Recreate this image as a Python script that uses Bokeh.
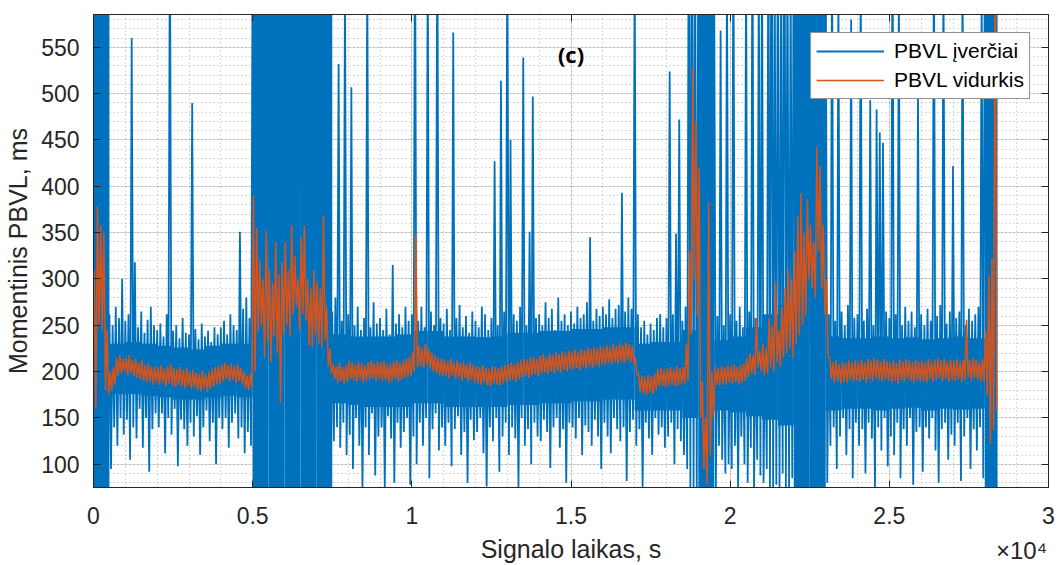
from bokeh.plotting import figure
from bokeh.models import FixedTicker, Range1d, Label, LinearAxis, CustomJSTickFormatter
from bokeh.embed import file_html
from bokeh.resources import INLINE

# ---- data ----
bin_start = list(range(0, 28400, 100))  # seconds, 100 s bins

blue_hi = [
    900, 640, 880, 610, 610, 262, 250, 270, 258, 300,
    255, 262, 560, 318, 248, 265, 242, 256, 270, 250,
    245, 252, 238, 262, 700, 244, 250, 236, 258, 242,
    240, 490, 246, 235, 252, 238, 244, 232, 248, 240,
    248, 255, 240, 262, 250, 245, 351, 268, 280, 258,
    700, 850, 620, 900, 640, 760, 880, 610, 720, 650,
    780, 640, 900, 700, 620, 860, 690, 750, 600, 820,
    720, 640, 880, 620, 600, 265, 280, 532, 255, 620,
    262, 507, 250, 270, 245, 258, 640, 248, 275, 252,
    258, 245, 268, 240, 315, 252, 262, 248, 270, 255,
    262, 720, 255, 270, 248, 650, 265, 250, 700, 258,
    252, 268, 245, 566, 258, 272, 248, 260, 242, 265,
    255, 248, 270, 262, 245, 258, 427, 250, 514, 265,
    680, 450, 262, 255, 270, 539, 250, 351, 497, 258,
    262, 250, 275, 258, 268, 245, 280, 255, 262, 250,
    265, 252, 270, 258, 262, 275, 345, 255, 268, 260,
    270, 262, 278, 258, 268, 272, 393, 265, 280, 268,
    650, 262, 248, 255, 240, 252, 245, 258, 262, 248,
    258, 524, 262, 349, 472, 255, 270, 750, 900, 680,
    700, 640, 600, 660, 434, 600, 260, 568, 250, 640,
    262, 700, 255, 270, 248, 650, 265, 720, 258, 640,
    680, 260, 720, 880, 640, 760, 620, 900, 700, 650,
    800, 640, 900, 720, 860, 700, 820, 640, 880, 750,
    700, 262, 660, 255, 620, 265, 250, 272, 580, 258,
    262, 640, 255, 268, 493, 250, 483, 458, 447, 265,
    258, 700, 262, 620, 250, 270, 255, 265, 248, 500,
    262, 250, 268, 255, 680, 260, 272, 640, 252, 265,
    422, 258, 265, 650, 250, 268, 255, 262, 270, 620,
    700, 620, 880, 900,
]
blue_lo = [
    60, 70, 65, 70, 75, 95, 140, 120, 150, 132,
    148, 105, 140, 128, 160, 118, 150, 92, 138, 155,
    140, 155, 112, 150, 132, 160, 98, 148, 138, 120,
    145, 130, 152, 110, 140, 158, 125, 145, 100, 150,
    138, 150, 118, 145, 155, 128, 140, 112, 135, 120,
    70, 95, 65, 75, 60, 105, 70, 80, 65, 72,
    65, 88, 70, 62, 100, 75, 68, 90, 72, 66,
    70, 78, 72, 80, 85, 125, 140, 118, 145, 110,
    132, 95, 150, 120, 75, 140, 110, 155, 88, 130,
    140, 75, 152, 128, 80, 145, 118, 135, 150, 78,
    130, 100, 145, 120, 150, 85, 138, 155, 115, 140,
    120, 145, 98, 138, 152, 110, 135, 80, 148, 126,
    135, 150, 112, 76, 140, 125, 150, 92, 130, 145,
    110, 140, 128, 75, 150, 120, 138, 100, 145, 130,
    125, 148, 135, 96, 140, 150, 118, 138, 80, 145,
    140, 128, 150, 110, 142, 135, 120, 148, 130, 95,
    145, 130, 112, 150, 138, 125, 140, 82, 135, 148,
    120, 138, 75, 145, 128, 110, 150, 132, 140, 118,
    130, 145, 100, 138, 125, 110, 95, 75, 70, 65,
    70, 60, 65, 70, 80, 75, 120, 105, 90, 100,
    95, 120, 75, 130, 100, 80, 118, 70, 105, 88,
    80, 95, 75, 70, 78, 65, 90, 72, 68, 85,
    70, 80, 65, 70, 75, 62, 70, 78, 68, 72,
    80, 120, 140, 95, 130, 150, 110, 138, 85, 145,
    120, 138, 90, 145, 128, 75, 140, 115, 150, 98,
    130, 110, 145, 85, 138, 120, 150, 78, 135, 140,
    92, 140, 128, 150, 115, 80, 138, 145, 105, 132,
    120, 145, 82, 130, 150, 95, 138, 115, 140, 85,
    100, 75, 70, 65,
]
mean_hi = [
    310, 378, 358, 350, 245, 200, 205, 215, 218, 214,
    215, 218, 212, 214, 210, 212, 207, 209, 205, 206,
    205, 207, 203, 206, 208, 204, 203, 205, 202, 204,
    200, 202, 199, 198, 201, 197, 200, 203, 205, 206,
    208, 210, 207, 209, 206, 208, 204, 200, 196, 198,
    390, 355, 320, 300, 352, 310, 296, 340, 305, 318,
    340, 310, 358, 325, 300, 345, 358, 300, 290, 310,
    297, 290, 368, 270, 225, 208, 206, 210, 205, 207,
    212, 210, 208, 211, 209, 207, 210, 212, 209, 211,
    210, 212, 208, 209, 211, 213, 210, 212, 214, 216,
    222, 347, 228, 226, 230, 224, 221, 218, 215, 214,
    213, 211, 214, 210, 212, 209, 211, 208, 210, 207,
    206, 205, 207, 204, 203, 206, 205, 204, 206, 207,
    208, 210, 209, 211, 212, 214, 213, 215, 216, 214,
    217, 219, 216, 220, 218, 221, 219, 222, 220, 223,
    222, 224, 221, 225, 223, 226, 224, 227, 225, 228,
    226, 229, 227, 230, 228, 231, 229, 232, 230, 228,
    215, 198, 196, 194, 197, 195, 198, 203, 204, 202,
    204, 205, 203, 206, 204, 205, 230, 330, 529, 470,
    420, 190, 150, 383, 200, 206, 204, 206, 205, 207,
    206, 208, 205, 207, 209, 215, 220, 218, 258, 222,
    230, 225, 258, 250, 297, 245, 270, 290, 310, 300,
    330, 368, 393, 350, 386, 358, 340, 443, 422, 358,
    300, 215, 210, 212, 208, 211, 209, 213, 210, 212,
    211, 213, 210, 214, 212, 215, 213, 211, 214, 212,
    210, 212, 209, 213, 211, 214, 212, 210, 213, 211,
    212, 210, 214, 211, 213, 215, 212, 214, 211, 213,
    212, 214, 211, 213, 256, 212, 215, 213, 211, 214,
    244, 304, 322, 700,
]
mean_lo = [
    160, 250, 244, 180, 175, 180, 186, 195, 198, 200,
    196, 198, 195, 193, 192, 190, 189, 190, 186, 188,
    186, 188, 184, 187, 185, 183, 186, 184, 182, 185,
    181, 183, 180, 179, 182, 178, 182, 184, 186, 187,
    190, 192, 189, 191, 188, 190, 186, 182, 180, 183,
    200, 244, 250, 215, 232, 210, 238, 220, 166, 240,
    250, 238, 262, 270, 245, 262, 255, 228, 226, 240,
    230, 226, 235, 205, 198, 192, 188, 190, 187, 189,
    192, 190, 189, 192, 188, 190, 191, 193, 190, 192,
    190, 191, 188, 190, 192, 189, 191, 193, 194, 195,
    200, 205, 206, 204, 208, 203, 200, 198, 196, 195,
    195, 193, 196, 192, 194, 190, 193, 189, 191, 188,
    187, 186, 188, 185, 184, 187, 186, 185, 188, 189,
    190, 191, 189, 192, 194, 195, 193, 196, 197, 195,
    198, 199, 197, 200, 198, 201, 199, 202, 200, 203,
    202, 204, 201, 205, 203, 206, 204, 207, 205, 208,
    207, 209, 208, 210, 208, 211, 209, 212, 210, 209,
    196, 178, 176, 175, 177, 176, 180, 184, 185, 183,
    185, 186, 184, 185, 186, 187, 190, 240, 300, 260,
    150, 95, 78, 110, 150, 186, 185, 187, 186, 188,
    187, 189, 186, 188, 190, 194, 198, 196, 205, 200,
    196, 198, 205, 200, 210, 205, 215, 220, 225, 215,
    230, 240, 250, 260, 300, 290, 280, 330, 290, 262,
    215, 192, 188, 190, 187, 189, 188, 191, 189, 190,
    189, 191, 188, 192, 190, 193, 191, 189, 192, 190,
    188, 190, 187, 191, 189, 192, 190, 188, 191, 189,
    190, 188, 192, 189, 191, 193, 190, 192, 189, 191,
    190, 192, 189, 191, 194, 190, 193, 191, 189, 190,
    174, 123, 137, 159,
]

# dense core of the blue estimates, per 500 s
core_start = list(range(0, 28001, 500))
core_lo = [
    75, 176, 176, 174, 172, 170, 170, 172, 174, 172,
    75, 75, 75, 75, 75, 166, 164, 162, 162, 162,
    166, 166, 162, 162, 162, 162, 164, 164, 166, 166,
    168, 168, 170, 170, 158, 158, 158, 150, 75, 158,
    156, 152, 148, 142, 75, 75, 158, 160, 160, 158,
    160, 161, 158, 160, 159, 160, 75,
]
core_hi = [
    585, 230, 232, 230, 228, 226, 224, 228, 230, 230,
    585, 585, 585, 585, 585, 240, 238, 238, 238, 240,
    244, 244, 238, 238, 237, 238, 242, 242, 244, 244,
    246, 246, 248, 248, 230, 232, 232, 245, 585, 234,
    238, 248, 262, 272, 585, 585, 238, 236, 236, 238,
    236, 237, 235, 236, 238, 236, 585,
]

x_tick_values = [0, 5000, 10000, 15000, 20000, 25000, 30000]
x_tick_labels = ["0", "0.5", "1", "1.5", "2", "2.5", "3"]
x_minor_values = list(range(0, 30001, 1000))
y_tick_values = [100, 150, 200, 250, 300, 350, 400, 450, 500, 550]
y_minor_values = list(range(80, 586, 10))
x_exponent_text = "×10⁴"
x_exponent_at = 29150

series_names = ["PBVL įverčiai", "PBVL vidurkis"]

assert len(bin_start) == len(blue_hi) == len(blue_lo) == len(mean_hi) == len(mean_lo)
assert len(core_start) == len(core_lo) == len(core_hi)

BLUE = "#0072BD"
ORANGE = "#D95319"
AX = "#262626"
FONT = "Liberation Sans"

bw = bin_start[1] - bin_start[0]
t_end = bin_start[-1] + bw
bx, by, ox, oy = [], [], [], []
for t, h, l, mh, ml in zip(bin_start, blue_hi, blue_lo, mean_hi, mean_lo):
    bx += [t, t + bw / 2]
    by += [h, l]
    ox += [t + bw / 4, t + 3 * bw / 4]
    oy += [mh, ml]
core_end = core_start[1:] + [t_end]

p = figure(width=1059, height=565,
           x_range=Range1d(0, 30000), y_range=Range1d(75, 585.4),
           output_backend="svg", toolbar_location=None,
           min_border_left=93, min_border_right=11,
           min_border_top=14, min_border_bottom=73)

p.quad(left=core_start, right=core_end, bottom=core_lo, top=core_hi,
       fill_color=BLUE, line_color=None)
p.line(bx, by, color=BLUE, line_width=1.8, legend_label=series_names[0])
p.line(ox, oy, color=ORANGE, line_width=1.5, legend_label=series_names[1])

# axes
p.xaxis.ticker = FixedTicker(ticks=x_tick_values, minor_ticks=x_minor_values)
p.xaxis.major_label_overrides = {v: s for v, s in zip(x_tick_values, x_tick_labels)}
p.yaxis.ticker = FixedTicker(ticks=y_tick_values, minor_ticks=y_minor_values)
p.yaxis.axis_label = "Momentinis PBVL, ms"
for ax in (p.xaxis[0], p.yaxis[0]):
    ax.axis_line_color = AX
    ax.major_tick_line_color = AX
    ax.major_tick_in = 7
    ax.major_tick_out = 0
    ax.minor_tick_line_color = None
    ax.major_label_text_font = FONT
    ax.major_label_text_font_size = "23px"
    ax.major_label_text_color = AX
    ax.axis_label_text_font = FONT
    ax.axis_label_text_font_size = "25px"
    ax.axis_label_text_font_style = "normal"
    ax.axis_label_text_color = AX
p.xaxis.major_label_standoff = 15
p.yaxis.major_label_standoff = 10
p.yaxis.axis_label_standoff = 6

# second bottom axis: carries the x-axis title and the x10^4 exponent on one row
xlab_axis = LinearAxis(
    ticker=FixedTicker(ticks=[x_exponent_at]),
    major_label_overrides={x_exponent_at: x_exponent_text},
    axis_line_color=None, major_tick_line_color=None, minor_tick_line_color=None,
    major_tick_in=0, major_tick_out=0, major_label_standoff=10,
    major_label_text_font=FONT, major_label_text_font_size="24px",
    major_label_text_color=AX,
    axis_label="Signalo laikas, s", axis_label_standoff=-32,
    axis_label_text_font=FONT, axis_label_text_font_size="25px",
    axis_label_text_font_style="normal", axis_label_text_color=AX)
p.add_layout(xlab_axis, "below")

# ticks on top/right (box)
blank = CustomJSTickFormatter(code="return ''")
for loc, tv, tm in (("above", x_tick_values, x_minor_values), ("right", y_tick_values, y_minor_values)):
    a = LinearAxis(ticker=FixedTicker(ticks=tv, minor_ticks=tm), formatter=blank,
                   major_label_standoff=0,
                   major_tick_in=7, major_tick_out=0, minor_tick_line_color=None,
                   major_tick_line_color=AX, axis_line_color=AX)
    p.add_layout(a, loc)

# grids
for g in (p.xgrid[0], p.ygrid[0]):
    g.grid_line_color = AX
    g.grid_line_alpha = 0.15
    g.minor_grid_line_color = AX
    g.minor_grid_line_alpha = 0.35
    g.minor_grid_line_dash = "1 3"

p.outline_line_color = AX
p.outline_line_width = 1
p.background_fill_color = "white"

# legend
lg = p.legend[0]
lg.location = "top_right"
lg.margin = 18
lg.padding = 5
lg.spacing = 3
lg.glyph_width = 68
lg.glyph_height = 26
lg.label_height = 26
lg.label_standoff = 10
lg.label_text_font = FONT
lg.label_text_font_size = "21px"
lg.label_text_color = "#000000"
lg.border_line_color = AX
lg.border_line_width = 1
lg.background_fill_alpha = 1

# panel tag
p.add_layout(Label(x=15000, y=543, text="(c)", text_font="Open Sans",
                   text_font_style="bold", text_font_size="22px",
                   text_align="center", text_baseline="middle", text_color="#000000"))

open("out.html", "w").write(file_html(p, INLINE))
